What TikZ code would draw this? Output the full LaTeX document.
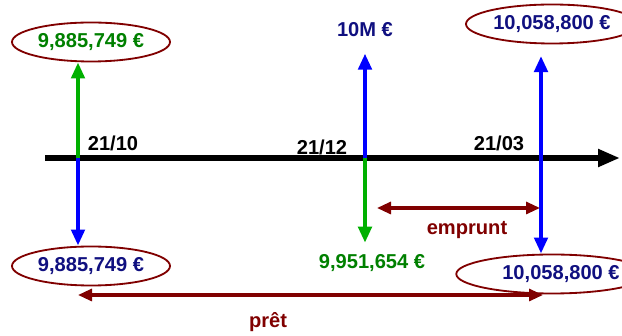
\documentclass[tikz,border=0pt]{standalone}
\usepackage{fontspec}
\setmainfont{Liberation Sans}
\usetikzlibrary{arrows.meta, shapes.geometric}
\definecolor{vertf}{RGB}{0,176,0}
\definecolor{vertt}{RGB}{0,128,0}
\definecolor{bleuf}{RGB}{0,0,255}
\definecolor{marine}{RGB}{16,16,128}
\definecolor{bordeaux}{RGB}{128,0,0}

\begin{document}
\begin{tikzpicture}[
    montant/.style={font=\fontsize{14.3}{16}\selectfont\bfseries, inner sep=1pt},
    bulle/.style={montant, ellipse, draw=bordeaux, line width=1.3pt,
      minimum width=3.95cm, minimum height=0.975cm, inner sep=0pt},
    flux/.style={line width=3pt, -{Triangle[length=0.4cm, width=0.33cm]}},
    duree/.style={bordeaux, line width=2.2pt,
      {Triangle[length=0.35cm, width=0.3cm]}-{Triangle[length=0.35cm, width=0.3cm]}}]
  \clip (0,0) rectangle (15.55,8.4);
  % axe du temps
  \coordinate (t0) at (1.125,4.45);
  \coordinate (t1) at (15.5,4.45);
  \draw[line width=4.2pt, -{Triangle[length=0.55cm, width=0.42cm]}] (t0) -- (t1);
  \foreach \x/\dt [count=\i] in {1.95/d1, 9.125/d2, 13.525/d3}
    \coordinate (\dt) at (\x,4.45);
  \foreach \x/\y/\lab [count=\i] in {2.825/4.825/{21/10}, 8.05/4.725/{21/12}, 12.475/4.825/{21/03}}
    \node[montant] (date\i) at (\x,\y) {\lab};
  % montants
  \node[bulle, text=vertt] (tl) at (2.275,7.35) {9,885,749 €};
  \node[bulle, text=marine] (bl) at (2.275,1.75) {9,885,749 €};
  \node[bulle, text=marine, minimum width=4.3cm] (tr) at (13.8,7.8) {10,058,800 €};
  \node[bulle, text=marine, minimum width=4.3cm] (br) at (13.8,1.55) {\hspace{0.45cm}10,058,800 €};
  \node[montant, marine] (m10) at (9.125,7.65) {10M €};
  \node[montant, vertt] (m9) at (9.3,1.825) {9,951,654 €};
  % flux
  \draw[flux, vertf] (d1) -- (tl.south -| d1);
  \draw[flux, bleuf] (d1) -- (bl.north -| d1);
  \draw[flux, bleuf, shorten >=0.37cm] (d2) -- (m10.south);
  \draw[flux, vertf, shorten >=0.25cm] (d2) -- (m9.north -| d2);
  \draw[flux, bleuf, shorten >=0.29cm] (d3) -- (tr.south -| d3);
  \draw[flux, bleuf] (d3) -- (br.north -| d3);
  % durees
  \coordinate (e0) at (9.425,3.2);
  \coordinate (e1) at (13.5,3.2);
  \draw[duree] (e0) -- (e1);
  \node[montant, bordeaux] (lemp) at (11.675,2.65) {emprunt};
  \coordinate (p0) at (1.95,1.025);
  \coordinate (p1) at (13.575,1.025);
  \draw[duree] (p0) -- (p1);
  \node[montant, bordeaux] (lpret) at (6.7,0.35) {prêt};
\end{tikzpicture}
\end{document}
